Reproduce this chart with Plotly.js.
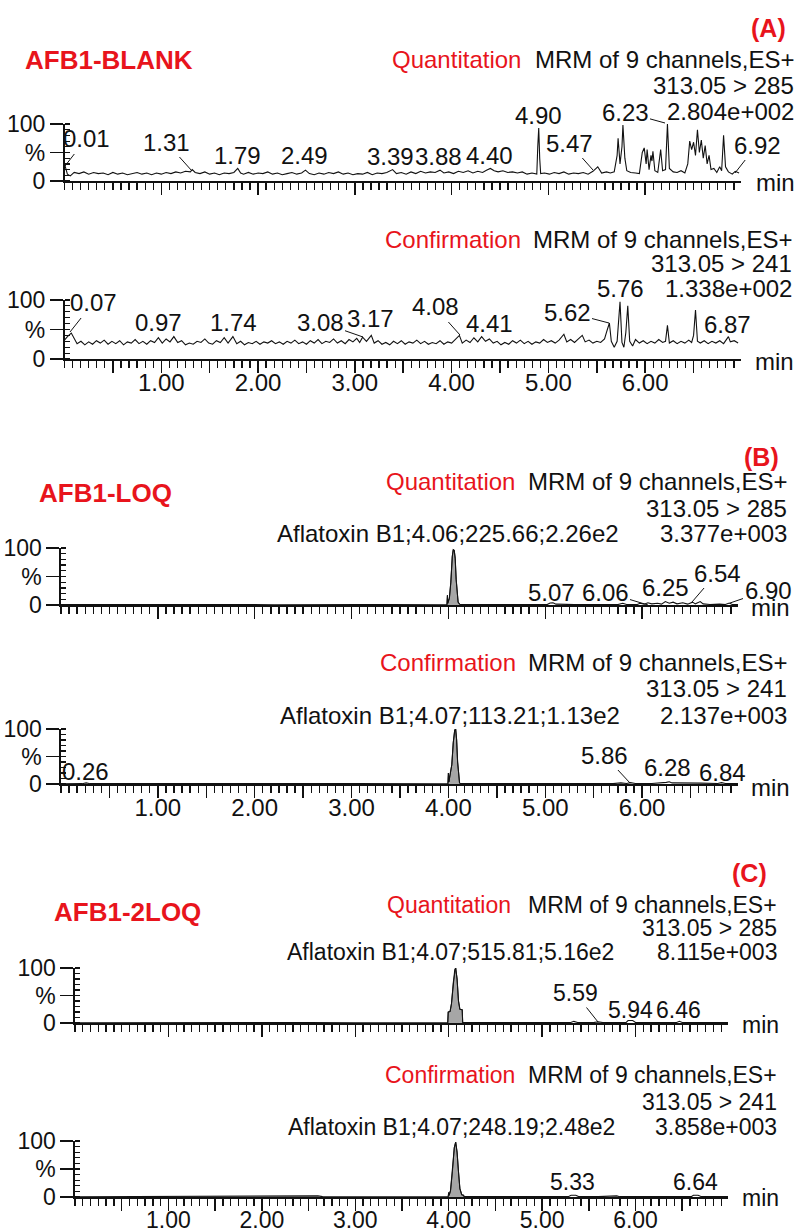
<!DOCTYPE html>
<html><head><meta charset="utf-8">
<script src="https://cdn.plot.ly/plotly-3.0.1.min.js"></script>
<style>html,body{margin:0;padding:0;background:#fff}#chart{width:797px;height:1232px}</style>
</head><body><div id="chart"></div>
<script>
// ---------------- DATA ----------------
const sampleNames = ['AFB1-BLANK', 'AFB1-LOQ', 'AFB1-2LOQ'];
const panelTags = ['(A)', '(B)', '(C)'];
const channelNames = ['Quantitation', 'Confirmation'];
const scanInfo = 'MRM of 9 channels,ES+';
const transitions = ['313.05 > 285', '313.05 > 241'];
const maxIntensity = ['2.804e+002', '1.338e+002', '3.377e+003', '2.137e+003', '8.115e+003', '3.858e+003'];
const peakInfo = ['', '', 'Aflatoxin B1;4.06;225.66;2.26e2', 'Aflatoxin B1;4.07;113.21;1.13e2',
                  'Aflatoxin B1;4.07;515.81;5.16e2', 'Aflatoxin B1;4.07;248.19;2.48e2'];
const xTickValues = [1, 2, 3, 4, 5, 6];
const xTickLabels = ['1.00', '2.00', '3.00', '4.00', '5.00', '6.00'];
const yTickValues = [0, 50, 100];
const yTickLabels = ['0', '%', '100'];
const axisUnit = 'min';

// [time (min), relative intensity (%)]
const blankQuant = [[0.00,30],[0.03,12],[0.06,9],[0.10,15],[0.15,13],[0.20,16],[0.25,12],[0.30,15],[0.35,13],[0.40,14],
[0.45,11],[0.50,15],[0.55,12],[0.60,14],[0.65,11],[0.70,13],[0.75,15],[0.80,12],[0.85,14],[0.90,11],[0.95,14],[1.00,12],
[1.05,15],[1.10,13],[1.15,16],[1.20,14],[1.25,17],[1.30,16],[1.32,20],[1.35,15],[1.40,13],[1.45,16],[1.50,12],[1.55,14],
[1.60,11],[1.65,14],[1.70,13],[1.75,15],[1.79,22],[1.82,14],[1.85,12],[1.90,15],[1.95,12],[2.00,14],[2.05,13],[2.10,16],
[2.15,12],[2.20,14],[2.25,11],[2.30,13],[2.35,15],[2.40,12],[2.45,14],[2.49,19],[2.53,13],[2.58,11],[2.63,14],[2.68,12],
[2.73,15],[2.78,13],[2.83,16],[2.88,12],[2.93,14],[2.98,11],[3.03,13],[3.08,12],[3.13,15],[3.18,11],[3.23,14],[3.28,13],
[3.33,15],[3.39,20],[3.43,13],[3.48,15],[3.53,12],[3.58,16],[3.63,13],[3.68,17],[3.73,14],[3.78,16],[3.83,15],[3.88,19],
[3.92,14],[3.97,16],[4.02,13],[4.07,17],[4.12,15],[4.17,18],[4.22,14],[4.27,17],[4.32,15],[4.36,19],[4.40,22],[4.44,18],
[4.48,16],[4.53,18],[4.58,15],[4.63,16],[4.68,14],[4.73,16],[4.78,12],[4.83,14],[4.88,12],[4.89,60],[4.90,93],[4.91,40],
[4.92,13],[4.96,14],[5.01,12],[5.06,15],[5.11,13],[5.16,16],[5.21,12],[5.26,14],[5.31,13],[5.36,15],[5.41,12],[5.46,17],
[5.51,25],[5.55,14],[5.60,16],[5.64,14],[5.68,16],[5.71,45],[5.72,75],[5.74,30],[5.76,60],[5.77,98],[5.79,40],[5.81,18],
[5.85,15],[5.90,14],[5.94,13],[5.97,50],[5.99,58],[6.01,30],[6.02,55],[6.04,20],[6.06,45],[6.07,35],[6.08,52],[6.10,18],
[6.13,15],[6.16,55],[6.18,18],[6.21,20],[6.23,100],[6.25,22],[6.29,16],[6.33,15],[6.37,18],[6.41,14],[6.44,30],[6.46,70],
[6.48,55],[6.50,68],[6.52,45],[6.54,90],[6.56,50],[6.58,72],[6.60,40],[6.62,62],[6.64,30],[6.66,45],[6.68,20],[6.71,22],
[6.74,15],[6.77,25],[6.79,18],[6.81,80],[6.83,25],[6.86,16],[6.90,12],[6.93,17],[6.97,14]];

const blankConf = [[0.00,32],[0.03,38],[0.07,44],[0.10,35],[0.13,26],[0.17,30],[0.21,24],[0.25,29],[0.29,25],[0.33,31],
[0.37,27],[0.41,32],[0.45,25],[0.49,30],[0.53,26],[0.57,31],[0.61,24],[0.65,29],[0.69,27],[0.73,33],[0.77,26],[0.81,30],
[0.85,25],[0.89,31],[0.93,28],[0.97,36],[1.01,27],[1.05,34],[1.09,29],[1.13,38],[1.17,28],[1.21,31],[1.25,24],[1.29,27],
[1.33,25],[1.37,30],[1.41,28],[1.45,34],[1.49,27],[1.53,25],[1.57,31],[1.61,28],[1.65,36],[1.69,27],[1.74,38],[1.78,26],
[1.82,30],[1.86,24],[1.90,28],[1.94,26],[1.98,30],[2.02,25],[2.06,29],[2.10,27],[2.14,31],[2.18,26],[2.22,29],[2.26,25],
[2.30,30],[2.34,27],[2.38,32],[2.42,26],[2.46,29],[2.50,25],[2.54,31],[2.58,27],[2.62,33],[2.66,26],[2.70,30],[2.74,28],
[2.78,34],[2.82,27],[2.86,31],[2.90,26],[2.94,33],[2.98,29],[3.02,35],[3.05,28],[3.08,37],[3.12,30],[3.17,40],[3.20,27],
[3.24,31],[3.28,25],[3.32,28],[3.36,24],[3.40,30],[3.44,26],[3.48,31],[3.52,25],[3.56,29],[3.60,27],[3.64,32],[3.68,26],
[3.72,30],[3.76,25],[3.80,28],[3.84,26],[3.88,31],[3.92,25],[3.96,29],[4.00,27],[4.04,33],[4.08,40],[4.11,27],[4.15,32],
[4.19,28],[4.23,36],[4.27,29],[4.31,38],[4.35,30],[4.39,34],[4.43,27],[4.47,30],[4.51,24],[4.55,28],[4.59,25],[4.63,31],
[4.67,27],[4.71,32],[4.75,26],[4.79,30],[4.83,25],[4.87,29],[4.91,27],[4.95,33],[4.99,28],[5.03,31],[5.07,27],[5.11,32],
[5.16,42],[5.19,29],[5.23,33],[5.27,28],[5.31,34],[5.35,40],[5.38,29],[5.42,32],[5.46,27],[5.50,30],[5.54,28],[5.58,34],
[5.60,45],[5.63,61],[5.65,30],[5.68,20],[5.71,30],[5.74,97],[5.76,28],[5.78,20],[5.80,45],[5.82,90],[5.84,30],[5.87,22],
[5.90,33],[5.94,27],[5.98,31],[6.02,26],[6.06,30],[6.10,27],[6.14,33],[6.18,28],[6.21,30],[6.23,57],[6.25,27],[6.29,31],
[6.33,26],[6.37,30],[6.41,27],[6.45,32],[6.48,28],[6.50,40],[6.52,83],[6.54,30],[6.57,27],[6.61,31],[6.65,26],[6.69,30],
[6.73,27],[6.77,31],[6.81,26],[6.84,32],[6.86,38],[6.88,29],[6.92,31],[6.96,27]];

const loqQuantBefore = [[0.00,0.6],[0.20,0.9],[0.45,0.5],[0.70,0.9],[1.00,0.6],[1.30,1.0],[1.60,0.6],[1.90,0.9],[2.20,0.5],
[2.50,0.9],[2.80,0.6],[3.10,1.0],[3.40,0.6],[3.70,0.9],[3.95,0.6]];
const loqQuantPeak = [[3.985,0.5],[3.99,17],[3.993,3],[4.01,12],[4.025,40],[4.04,85],[4.05,97],[4.06,96],[4.07,82],
[4.08,45],[4.09,15],[4.10,5],[4.115,1.5],[4.125,0.6]];
const loqQuantAfter = [[4.20,0.8],[4.50,0.5],[4.80,0.9],[5.02,0.8],[5.05,3.5],[5.08,4],[5.11,1.5],[5.30,0.7],[5.60,0.9],
[5.75,0.8],[5.80,3],[5.84,1],[5.95,1],[5.98,3],[6.02,1.5],[6.06,4],[6.10,2],[6.16,3],[6.20,1.5],[6.24,6],[6.28,3],[6.32,5],
[6.36,2],[6.42,4],[6.47,1.5],[6.52,5],[6.55,2],[6.60,6],[6.63,2],[6.70,1],[6.80,1.5],[6.86,1],[6.90,3.5],[6.93,1],[6.99,0.8]];

const loqConfBefore = [[0.00,0.5],[0.22,0.6],[0.26,2],[0.30,0.6],[0.60,1.0],[0.90,0.6],[1.20,1.0],[1.50,0.6],[1.80,1.0],
[2.10,0.6],[2.40,1.0],[2.70,0.6],[3.00,1.0],[3.30,0.6],[3.60,1.0],[3.90,0.6]];
const loqConfPeak = [[3.995,0.5],[4.00,20],[4.005,4],[4.02,20],[4.035,35],[4.05,75],[4.065,98],[4.075,100],[4.085,80],
[4.095,40],[4.105,10],[4.115,2],[4.125,0.6]];
const loqConfAfter = [[4.20,1.0],[4.50,0.6],[4.80,1.0],[5.10,0.6],[5.40,1.0],[5.70,0.7],[5.78,2],[5.84,1],[5.88,2.5],
[5.93,1],[6.10,1],[6.25,3],[6.28,4],[6.31,2],[6.50,1],[6.60,1.5],[6.78,1],[6.82,2.5],[6.86,1],[6.99,0.6]];

const loq2QuantBefore = [[0.00,0.5],[0.50,0.8],[1.00,0.5],[1.50,0.8],[2.00,0.5],[2.50,0.8],[3.00,0.5],[3.50,0.8],[3.95,0.5]];
const loq2QuantPeak = [[3.99,0.5],[3.995,20],[4.015,21],[4.03,35],[4.05,75],[4.065,97],[4.075,100],[4.09,80],[4.105,40],
[4.12,25],[4.145,24],[4.15,0.6]];
const loq2QuantAfter = [[4.30,0.8],[4.70,0.5],[5.00,0.8],[5.30,0.6],[5.34,3],[5.38,1],[5.55,0.8],[5.60,2],[5.65,0.8],
[5.90,1],[5.92,4.5],[5.97,4.5],[6.00,1],[6.20,0.8],[6.44,1],[6.47,3],[6.50,1],[6.70,0.8],[6.99,0.6]];

const loq2ConfBefore = [[0.00,0.5],[0.50,0.8],[1.00,0.5],[1.50,0.8],[2.00,0.5],[2.16,1.5],[2.20,0.5],[2.60,2],[2.65,0.6],
[3.00,0.8],[3.50,0.5],[3.95,0.7]];
const loq2ConfPeak = [[3.995,0.5],[4.00,8],[4.005,3],[4.02,12],[4.04,45],[4.06,88],[4.075,98],[4.09,80],[4.105,45],
[4.12,15],[4.14,4],[4.16,3],[4.165,0.6]];
const loq2ConfAfter = [[4.30,0.8],[4.70,0.5],[5.00,0.8],[5.28,0.6],[5.31,3],[5.36,3],[5.39,0.8],[5.60,0.6],[5.80,2],
[5.83,0.6],[6.10,0.8],[6.40,0.6],[6.60,1],[6.62,3],[6.67,3],[6.70,1],[6.99,0.6]];

// peak retention-time labels per panel
const peakLabels = [
  ['0.01','1.31','1.79','2.49','3.39','3.88','4.40','4.90','5.47','6.23','6.92'],
  ['0.07','0.97','1.74','3.08','3.17','4.08','4.41','5.62','5.76','6.87'],
  ['5.07','6.06','6.25','6.54','6.90'],
  ['0.26','5.86','6.28','6.84'],
  ['5.59','5.94','6.46'],
  ['5.33','6.64']
];

// ---------------- LAYOUT (pixel placement) ----------------
const W = 797, H = 1232;
const FONT = 'Liberation Sans, Arial, Helvetica, sans-serif';
const RED = '#e8141c';
const panelFont = [24, 24, 24, 24, 23, 23];
const px = x => x / W, py = y => 1 - y / H;

// plot boxes: [left, right, top(100%), bottom(0%)] in px
const boxes = [
  [64.5, 741, 124, 181], [64.5, 741, 300, 359],
  [61, 738, 548, 605],   [61, 738, 729, 784],
  [75, 728, 968, 1023],  [75, 728, 1141, 1197]
];
// text rows per panel: header y, transition y, intensity y, channel right, info right
const rows = [
  {h:60, t:85, i:111, cr:523, ir:796, pr:620},
  {h:239, t:263, i:289, cr:523, ir:794, pr:620},
  {h:482, t:508, i:533, cr:517, ir:789, pr:621},
  {h:662, t:688, i:715, cr:518, ir:789, pr:622},
  {h:905, t:928, i:952, cr:513, ir:779, pr:616},
  {h:1075, t:1102, i:1127, cr:517, ir:779, pr:617}
];
const samplePos = [[23, 60], [37, 493], [52, 912]];
const tagPos = [[788, 28], [781, 457], [769, 873]];
const unitPos = [[775, 183], [774, 361], [770, 607], [770, 787], [760, 1025], [760, 1198]];
// label placements: [centerX, centerY, (leaderEndX, leaderEndY)]
const labelPos = [
  [[86,139,65,166],[166,142,192,171],[237,155],[304,155],[390,156],[438,156],[490,155],[538,115],[569,143,593,170],[625,112,665,123],[757,145,735,173]],
  [[93,303,70,332],[158,322],[233,322],[320,322,363,337],[370,318],[435,307,460,335],[490,323],[567,312,609,323],[620,289],[727,324]],
  [[551,592],[605,592,648,605],[665,587],[717,573,692,602],[768,590,730,603]],
  [[85,771],[604,755,630,783],[667,767],[722,772]],
  [[575,993,598,1022],[630,1010],[678,1010]],
  [[572,1182],[695,1182]]
];

const series = [
  {line: blankQuant},
  {line: blankConf},
  {before: loqQuantBefore, peak: loqQuantPeak, after: loqQuantAfter},
  {before: loqConfBefore, peak: loqConfPeak, after: loqConfAfter},
  {before: loq2QuantBefore, peak: loq2QuantPeak, after: loq2QuantAfter},
  {before: loq2ConfBefore, peak: loq2ConfPeak, after: loq2ConfAfter}
];

const traces = [];
const layout = {
  width: W, height: H, margin: {l:0, r:0, t:0, b:0},
  paper_bgcolor: '#fff', plot_bgcolor: 'rgba(0,0,0,0)',
  showlegend: false, font: {family: FONT, size: 24, color: '#111'},
  annotations: []
};

// major x ticks every 0.5 min; labels on whole minutes
const majorVals = [], majorText = [];
for (let k = 1; k <= 13; k++) {
  const v = k / 2;
  majorVals.push(v);
  const idx = xTickValues.indexOf(v);
  majorText.push(idx >= 0 ? xTickLabels[idx] : '');
}

series.forEach((s, i) => {
  const n = i + 1;
  const FS = panelFont[i];
  const xa = 'x' + (n === 1 ? '' : n), ya = 'y' + (n === 1 ? '' : n);
  const pts = s.line ? s.line : s.before.concat(s.peak, s.after);
  if (s.peak) {
    traces.push({type:'scatter', mode:'lines', x: s.peak.map(p=>p[0]), y: s.peak.map(p=>p[1]),
      xaxis: xa, yaxis: ya, fill:'tozeroy', fillcolor:'#a6a6a6', line:{color:'#222', width:1}, hoverinfo:'skip'});
  }
  traces.push({type:'scatter', mode:'lines', x: pts.map(p=>p[0]), y: pts.map(p=>p[1]),
    xaxis: xa, yaxis: ya, line:{color:'#111', width:1.1}, hoverinfo:'skip'});

  const b = boxes[i];
  const bottomPanel = (i % 2 === 1);
  layout['xaxis' + (n === 1 ? '' : n)] = {
    domain: [px(b[0]), px(b[1])], range: [0, 6.99], anchor: ya,
    showline: true, linecolor: '#111', linewidth: 1.6, showgrid: false, zeroline: false,
    ticks: 'outside', ticklen: 12, tickwidth: 1.5, tickcolor: '#111',
    tickmode: 'array', tickvals: majorVals, ticktext: majorText, ticklabelstandoff: -10,
    showticklabels: bottomPanel, tickfont: {family: FONT, size: FS, color: '#111'},
    minor: {tickmode: 'linear', tick0: 0, dtick: 1/12, ticks: 'outside', ticklen: 7, tickwidth: 1.3, tickcolor: '#111', showgrid: false},
    fixedrange: true
  };
  layout['yaxis' + (n === 1 ? '' : n)] = {
    domain: [py(b[3]), py(b[2])], range: [0, 100], anchor: xa,
    showline: true, linecolor: '#111', linewidth: 1.6, showgrid: false, zeroline: false,
    ticks: 'outside', ticklen: 13, tickwidth: 1.5, tickcolor: '#111',
    tickmode: 'array', tickvals: yTickValues, ticktext: yTickLabels,
    tickfont: {family: FONT, size: 23, color: '#111'},
    minor: {tickmode: 'linear', tick0: 0, dtick: 10, ticks: 'inside', ticklen: 5, tickwidth: 1.2, tickcolor: '#111', showgrid: false},
    fixedrange: true
  };

  const r = rows[i];
  const ann = layout.annotations;
  const T = (text, x, y, xanchor, font) => ann.push({text, x: px(x), y: py(y), xref:'paper', yref:'paper',
     showarrow:false, xanchor, yanchor:'middle', font: Object.assign({family: FONT, size: FS, color:'#111'}, font||{})});
  T(channelNames[i % 2], r.cr, r.h, 'right', {color: RED});
  T(scanInfo, r.ir, r.h, 'right');
  T(transitions[i % 2], r.ir, r.t, 'right');
  T(maxIntensity[i], r.ir, r.i, 'right');
  if (peakInfo[i]) T(peakInfo[i], r.pr, r.i, 'right');
  T(axisUnit, unitPos[i][0], unitPos[i][1], 'center');

  peakLabels[i].forEach((lab, j) => {
    const p = labelPos[i][j];
    if (p.length === 2) {
      T(lab, p[0], p[1], 'center');
    } else {
      ann.push({text: lab, x: px(p[2]), y: py(p[3]), xref:'paper', yref:'paper', showarrow:true,
        arrowhead:0, arrowwidth:1, arrowcolor:'#111', ax: p[0]-p[2], ay: p[1]-p[3], standoff:0,
        font:{family: FONT, size: FS, color:'#111'}});
    }
  });
});

sampleNames.forEach((name, k) => {
  layout.annotations.push({text: '<b>' + name + '</b>', x: px(samplePos[k][0]), y: py(samplePos[k][1]),
    xref:'paper', yref:'paper', showarrow:false, xanchor:'left', yanchor:'middle',
    font:{family: FONT, size: 26, color: RED}});
  layout.annotations.push({text: '<b>' + panelTags[k] + '</b>', x: px(tagPos[k][0]), y: py(tagPos[k][1]),
    xref:'paper', yref:'paper', showarrow:false, xanchor:'right', yanchor:'middle',
    font:{family: FONT, size: 25, color: RED}});
});

Plotly.newPlot('chart', traces, layout, {staticPlot: true, displayModeBar: false});
</script>
</body></html>
